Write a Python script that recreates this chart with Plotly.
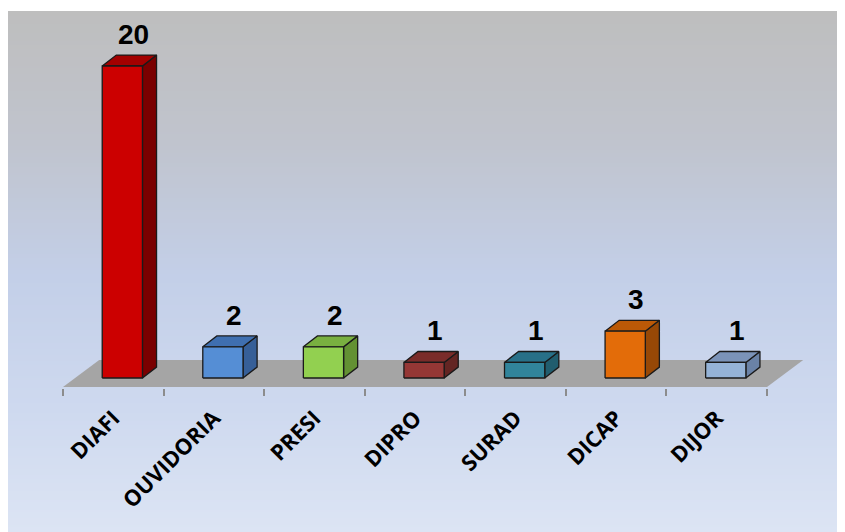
import base64
import struct
import zlib
import plotly.graph_objects as go

# ---------------- data ----------------
categories = ["DIAFI", "OUVIDORIA", "PRESI", "DIPRO", "SURAD", "DICAP", "DIJOR"]
values = [20, 2, 2, 1, 1, 3, 1]

front_colors = ["#cc0000", "#558ed5", "#92d050", "#953735", "#31849b", "#e36c09", "#95b3d7"]
top_colors = ["#a30000", "#3f6fb0", "#79b040", "#7a2c2a", "#287088", "#bb5907", "#7b93b8"]
side_colors = ["#7a0000", "#365f98", "#639133", "#632523", "#215d6e", "#974806", "#6a82a6"]

# ---------------- geometry / style constants ----------------
FRONT_W = 0.40       # front face width (category units)
FRONT_OFF = -0.11    # left edge of front face relative to category centre
DEPTH_X = 0.14       # 3D depth offset in x (category units)
DEPTH_Y = 0.70       # 3D depth offset in y (value units)
FLOOR_FRONT = -0.58
FLOOR_BACK = 1.15
FLOOR_DX = 0.36
OUTLINE = "#1a1a1a"

W, H = 845, 532
AXIS_PX = 380                 # x axis position (figure px from top)
MB = H - AXIS_PX
AXIS_LEFT_PX = 55             # figure px of the left category boundary
PX_PER_CAT = 100.57
PX_PER_VAL = 15.6
ZERO_PX_ABOVE_AXIS = 10
BG_TOP_PX = 3

n = len(categories)
xpos = list(range(n))

x_min = -0.5 - AXIS_LEFT_PX / PX_PER_CAT
x_max = x_min + W / PX_PER_CAT
y_min = -ZERO_PX_ABOVE_AXIS / PX_PER_VAL
y_max = y_min + (H - MB) / PX_PER_VAL


# ---------------- background gradient as PNG ----------------
def gradient_png(stops, h=256):
    rows = []
    for i in range(h):
        t = i / (h - 1)
        for k in range(len(stops) - 1):
            t0, c0 = stops[k]
            t1, c1 = stops[k + 1]
            if t0 <= t <= t1:
                f = (t - t0) / (t1 - t0) if t1 > t0 else 0
                rows.append(tuple(int(round(c0[j] + (c1[j] - c0[j]) * f)) for j in range(3)))
                break
    raw = b"".join(b"\x00" + bytes(r) for r in rows)

    def chunk(tag, data):
        return (struct.pack(">I", len(data)) + tag + data +
                struct.pack(">I", zlib.crc32(tag + data) & 0xFFFFFFFF))

    png = (b"\x89PNG\r\n\x1a\n" +
           chunk(b"IHDR", struct.pack(">IIBBBBB", 1, h, 8, 2, 0, 0, 0)) +
           chunk(b"IDAT", zlib.compress(raw)) +
           chunk(b"IEND", b""))
    return "data:image/png;base64," + base64.b64encode(png).decode()


bg_stops = [
    (0.00, (190, 190, 190)),
    (0.25, (192, 196, 206)),
    (0.50, (195, 207, 232)),
    (0.75, (206, 217, 239)),
    (1.00, (221, 229, 244)),
]
bg_src = gradient_png(bg_stops)

fig = go.Figure()


def poly(xs, ys, fill, lw=1.3, lc=OUTLINE):
    fig.add_trace(go.Scatter(
        x=xs + [xs[0]], y=ys + [ys[0]],
        mode="lines", fill="toself", fillcolor=fill,
        line=dict(width=lw, color=lc),
        hoverinfo="skip", showlegend=False,
    ))


# floor
poly([-0.5, n - 0.5, n - 0.5 + FLOOR_DX, -0.5 + FLOOR_DX],
     [FLOOR_FRONT, FLOOR_FRONT, FLOOR_BACK, FLOOR_BACK],
     "#a5a5a5", lw=0, lc="rgba(0,0,0,0)")

# bars: side, top, front faces
for i, v in enumerate(values):
    x0 = xpos[i] + FRONT_OFF
    x1 = x0 + FRONT_W
    poly([x1, x1 + DEPTH_X, x1 + DEPTH_X, x1],
         [0, DEPTH_Y, v + DEPTH_Y, v], side_colors[i])
    poly([x0, x1, x1 + DEPTH_X, x0 + DEPTH_X],
         [v, v, v + DEPTH_Y, v + DEPTH_Y], top_colors[i])
    poly([x0, x1, x1, x0], [0, 0, v, v], front_colors[i])

# value labels
for i, v in enumerate(values):
    fig.add_annotation(
        x=xpos[i] + 0.2, y=v + DEPTH_Y, text=str(v),
        showarrow=False, xanchor="center", yanchor="bottom", yshift=3,
        font=dict(family="Liberation Sans", size=28, color="#000000", weight="bold"),
    )

fig.update_layout(
    width=W, height=H,
    margin=dict(l=0, r=0, t=0, b=MB),
    paper_bgcolor="#dde5f4",
    plot_bgcolor="rgba(0,0,0,0)",
    images=[
        dict(source=bg_src, xref="paper", yref="paper",
             x=-0.05, y=(H - MB - BG_TOP_PX) / (H - MB),
             sizex=1.1, sizey=(H - BG_TOP_PX) / (H - MB),
             xanchor="left", yanchor="top", sizing="stretch", layer="below"),
    ],
    shapes=[dict(type="rect", xref="paper", yref="paper", layer="below",
                 x0=-0.05, x1=1.05, y0=(H - MB - BG_TOP_PX) / (H - MB), y1=1.2,
                 fillcolor="#ffffff", line=dict(width=0))],
    xaxis=dict(
        range=[x_min, x_max], showgrid=False, zeroline=False, showline=False,
        tickmode="array", tickvals=xpos, ticktext=categories,
        tickangle=-45, ticks="", ticklabelstandoff=12,
        tickfont=dict(family="Open Sans", size=22, color="#000000", weight="bold"),
        minor=dict(tickmode="array", tickvals=[i - 0.5 for i in range(n + 1)],
                   ticks="outside", ticklen=7, tickcolor="#8c8c8c", tickwidth=1.5,
                   showgrid=False),
        fixedrange=True,
    ),
    yaxis=dict(
        range=[y_min, y_max], showgrid=False, zeroline=False, showline=False,
        showticklabels=False, ticks="", fixedrange=True,
    ),
)

fig.write_html(
    "out.html",
    post_script="document.documentElement.style.overflow='hidden';"
                "document.body.style.overflow='hidden';",
)
